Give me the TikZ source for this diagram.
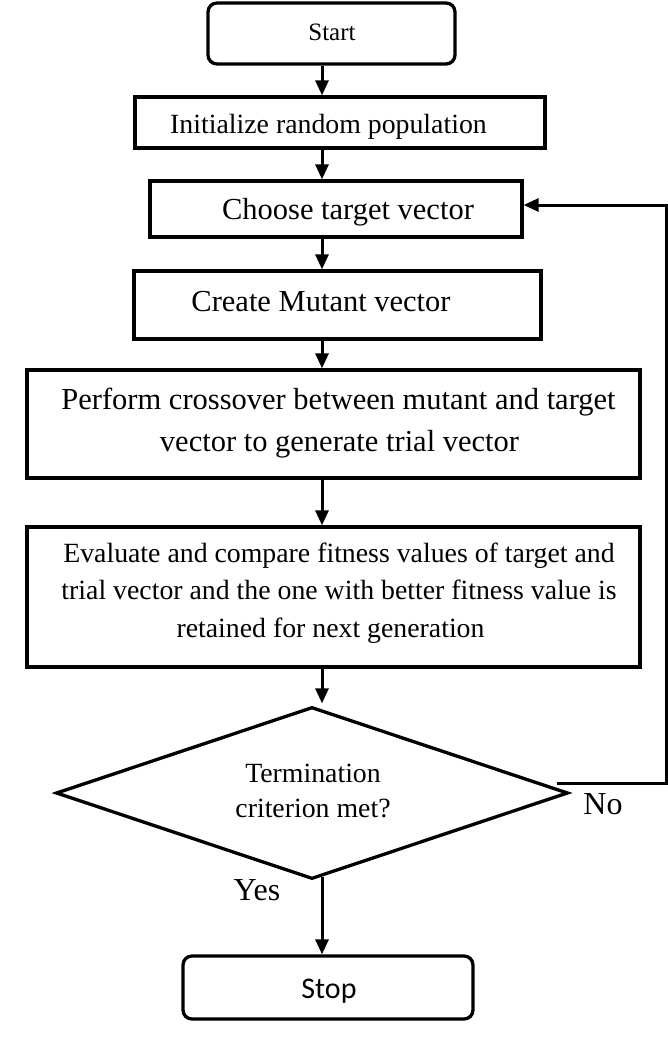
\documentclass[tikz,border=0pt]{standalone}
\usepackage{fontspec}
\setmainfont{Liberation Serif}
\newfontfamily\stopfont{Carlito}
\usetikzlibrary{arrows.meta,shapes.geometric,calc}
\begin{document}
\begin{tikzpicture}[x=1pt,y=-1pt,
  frame/.style={draw,line width=3.3pt,inner sep=0pt},
  rbox/.style={frame,rounded corners=9pt},
  lbl/.style={inner sep=0pt,anchor=base},
  arr/.style={line width=3pt,-{Triangle[length=15pt,width=13pt]}},
  fsA/.style={font=\fontsize{25}{30}\selectfont},
  fsB/.style={font=\fontsize{27.8}{37.5}\selectfont},
  fsC/.style={font=\fontsize{30.5}{42}\selectfont},
  fsD/.style={font=\fontsize{32}{36}\selectfont}]
\useasboundingbox (0,0) rectangle (668,1054);
\coordinate (col) at (322,0);

% boxes
\node[rbox,minimum width=247pt,minimum height=61pt] (start) at (331.5,33.5) {};
\node[frame,minimum width=410pt,minimum height=51pt] (init) at (340,122.5) {};
\node[frame,minimum width=372pt,minimum height=56pt] (choose) at (336,209) {};
\node[frame,minimum width=407pt,minimum height=68pt] (create) at (337.5,305) {};
\node[frame,minimum width=613pt,minimum height=108pt] (perform) at (333.5,424) {};
\node[frame,minimum width=613pt,minimum height=140pt] (eval) at (333.5,597) {};
\node[frame,diamond,minimum width=512pt,minimum height=172pt] (dia) at (312,793) {};
\node[rbox,minimum width=290pt,minimum height=63pt] (stop) at (328,987.5) {};

% texts
\node[lbl,fsA] (tstart) at (332,41) {Start};
\node[lbl,fsB] (tinit) at (328.5,133) {Initialize random population};
\node[lbl,fsC] (tchoose) at (348,219) {Choose target vector};
\node[lbl,fsC] (tcreate) at (321,311) {Create Mutant vector};
\node[lbl,fsC] (tperformA) at (338.5,409) {Perform crossover between mutant and target};
\node[lbl,fsC] (tperformB) at (339.5,451) {vector to generate trial vector};
\node[lbl,fsB] (tevalA) at (339,562) {Evaluate and compare fitness values of target and};
\node[lbl,fsB] (tevalB) at (339,599) {trial vector and the one with better fitness value is};
\node[lbl,fsB] (tevalC) at (330.5,637) {retained for next generation};
\node[lbl,fsB] (tdiaA) at (313,782) {Termination};
\node[lbl,fsB] (tdiaB) at (313,817) {criterion met?};
\node[lbl,fsD] (tno) at (603,814) {No};
\node[lbl,fsD] (tyes) at (257,900) {Yes};
\node[lbl,font=\stopfont\fontsize{30}{36}\selectfont] (tstop) at (329,998) {Stop};

% connectors
\draw[arr] (start.south -| col) -- (init.north -| col);
\draw[arr] (init.south -| col) -- (choose.north -| col);
\draw[arr] (choose.south -| col) -- (create.north -| col);
\draw[arr] (create.south -| col) -- (perform.north -| col);
\draw[arr] (perform.south -| col) -- (eval.north -| col);
\draw[arr] (eval.south -| col) -- ($(col |- dia.north)+(0,-2)$);
\draw[arr] ($(col |- dia.south)+(0,-4)$) -- (stop.north -| col);
\coordinate (nostart) at ($(dia.east)+(-13,-10)$);
\draw[arr] (nostart) -- ++(110,0) |- ([yshift=4pt]choose.east);
\end{tikzpicture}
\end{document}
